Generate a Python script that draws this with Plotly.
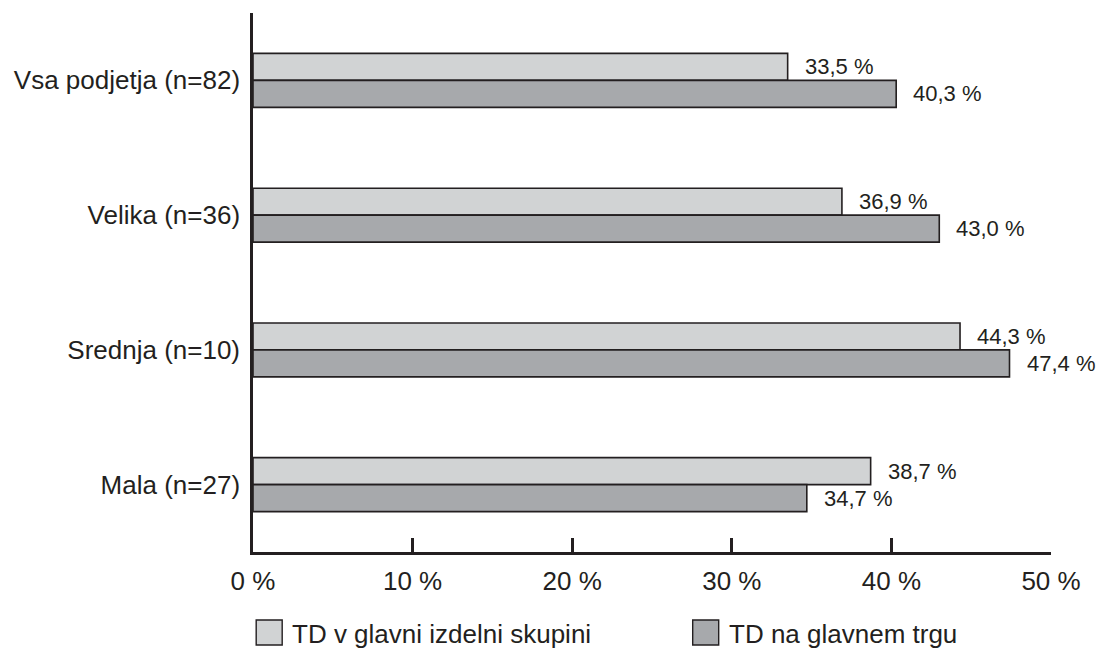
import plotly.graph_objects as go

# Share of companies by size class (percent)
categories = ["Vsa podjetja (n=82)", "Velika (n=36)", "Srednja (n=10)", "Mala (n=27)"]
series_names = ["TD v glavni izdelni skupini", "TD na glavnem trgu"]
td_skupina = [33.5, 36.9, 44.3, 38.7]
td_trg = [40.3, 43.0, 47.4, 34.7]
tick_values = [0, 10, 20, 30, 40, 50]
tick_labels = ["0 %", "10 %", "20 %", "30 %", "40 %", "50 %"]

INK = "#231f20"
LIGHT = "#d1d3d4"
DARK = "#a7a9ac"
FONT = "Liberation Sans, Arial, Helvetica, sans-serif"


def fmt(v):
    return f"{v:.1f}".replace(".", ",") + " %"


fig = go.Figure()
for name, values, color in [(series_names[0], td_skupina, LIGHT),
                            (series_names[1], td_trg, DARK)]:
    fig.add_trace(go.Bar(
        y=categories, x=values, name=name, orientation="h",
        marker=dict(color=color, line=dict(color=INK, width=1.6)),
        showlegend=False, hoverinfo="x+y",
    ))

# value labels next to each bar end
annotations = []
for values, shift in [(td_skupina, 13.5), (td_trg, -13.5)]:
    for cat, v in zip(categories, values):
        annotations.append(dict(
            x=v, y=cat, xref="x", yref="y", text=fmt(v), showarrow=False,
            xanchor="left", yanchor="middle", xshift=15, yshift=shift,
            font=dict(size=22, color=INK, family=FONT),
        ))

# legend drawn below the axis: swatch + label per series
shapes = []
legend_items = [(series_names[0], LIGHT, 0.004), (series_names[1], DARK, 0.551)]
for name, color, x0 in legend_items:
    shapes.append(dict(
        type="rect", xref="paper", yref="paper",
        x0=x0, x1=x0 + 26 / 798, y0=(552 - 620) / 539, y1=(552 - 645) / 539,
        fillcolor=color, line=dict(color=INK, width=1.4),
    ))
    annotations.append(dict(
        x=x0 + 34 / 798, y=(552 - 634) / 539, xref="paper", yref="paper",
        text=name, showarrow=False, xanchor="left", yanchor="middle",
        font=dict(size=26, color=INK, family=FONT),
    ))

fig.update_layout(
    width=1096, height=648,
    margin=dict(l=253, r=45, t=13, b=96, autoexpand=False),
    paper_bgcolor="white", plot_bgcolor="white",
    barmode="group", bargap=0.6, bargroupgap=0,
    font=dict(family=FONT, color=INK),
    annotations=annotations, shapes=shapes,
    showlegend=False,
)
fig.update_xaxes(
    range=[0, 50], tickvals=tick_values, ticktext=tick_labels,
    showgrid=False, zeroline=False,
    showline=True, linecolor=INK, linewidth=2.5,
    ticks="inside", ticklen=14, tickwidth=2.5, tickcolor=INK,
    tickfont=dict(size=26, color=INK, family=FONT),
    ticklabelstandoff=4, automargin=False,
)
fig.update_yaxes(
    range=[3.5, -0.5], showgrid=False, zeroline=False,
    showline=True, linecolor=INK, linewidth=2.5,
    ticks="", tickfont=dict(size=26, color=INK, family=FONT),
    ticklabelstandoff=5, automargin=False,
)

fig.write_html("out.html")
